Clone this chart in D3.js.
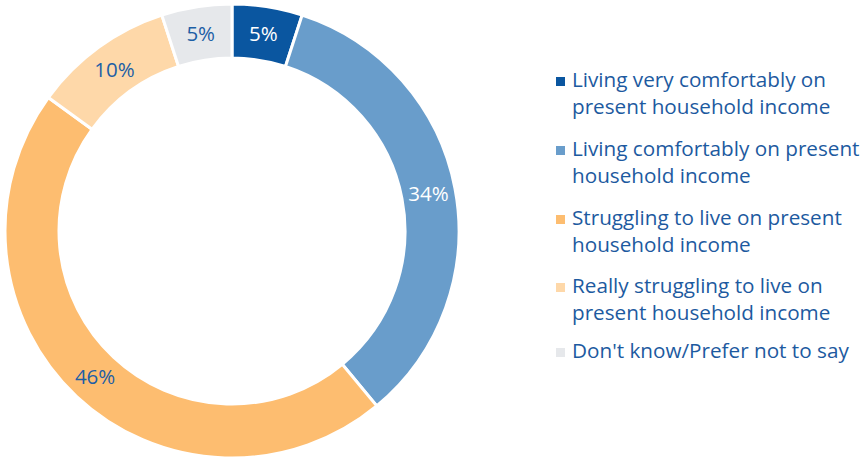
<!DOCTYPE html>
<html>
<head>
<meta charset="utf-8">
<script src="https://cdn.jsdelivr.net/npm/d3@7"></script>
<style>
  html, body { margin: 0; padding: 0; background: #fff; }
  svg { display: block; font-family: "Open Sans", "Noto Sans", sans-serif; }
</style>
</head>
<body>
<svg id="chart" width="865" height="459"></svg>
<script>
// Household income sentiment, share of respondents (%)
const categories = [
  "Living very comfortably on present household income",
  "Living comfortably on present household income",
  "Struggling to live on present household income",
  "Really struggling to live on present household income",
  "Don't know/Prefer not to say"
];
const values = [5, 34, 46, 10, 5];
const colors = ["#0a56a0", "#699dcb", "#fdbd70", "#fed8a9", "#e6e8eb"];
const labelColors = ["#ffffff", "#ffffff", "#1d5fa5", "#1d5fa5", "#1d5fa5"];
// Legend entries broken into the lines they wrap to
const legendLines = [
  ["Living very comfortably on", "present household income"],
  ["Living comfortably on present", "household income"],
  ["Struggling to live on present", "household income"],
  ["Really struggling to live on", "present household income"],
  ["Don't know/Prefer not to say"]
];

const svg = d3.select("#chart");
const cx = 232, cy = 231, outerR = 227, innerR = 173;

const pie = d3.pie().sort(null).value(d => d)(values);
const arc = d3.arc().innerRadius(innerR).outerRadius(outerR);
const labelArc = d3.arc().innerRadius((innerR + outerR) / 2).outerRadius((innerR + outerR) / 2);

const g = svg.append("g").attr("transform", `translate(${cx},${cy})`);

g.selectAll("path.slice")
  .data(pie)
  .join("path")
  .attr("class", "slice")
  .attr("d", arc)
  .attr("fill", (d, i) => colors[i])
  .attr("stroke", "#ffffff")
  .attr("stroke-width", 3);

g.selectAll("text.pct")
  .data(pie)
  .join("text")
  .attr("class", "pct")
  .attr("transform", d => `translate(${labelArc.centroid(d)})`)
  .attr("text-anchor", "middle")
  .attr("dy", "0.36em")
  .attr("font-size", 20.5)
  .attr("fill", (d, i) => labelColors[i])
  .text(d => d.data + "%");

// Legend: baseline of the first line of each entry
const legend = svg.append("g").attr("transform", "translate(556,0)");
const lineH = 27;
const rowBaselines = [87, 156, 225, 293, 358];
legendLines.forEach((lines, i) => {
  const baseline = rowBaselines[i];
  const row = legend.append("g");
  row.append("rect")
    .attr("x", 0)
    .attr("y", baseline - 10)
    .attr("width", 9)
    .attr("height", 9)
    .attr("fill", colors[i]);
  const t = row.append("text")
    .attr("x", 16)
    .attr("y", baseline)
    .attr("font-size", 20.7)
    .attr("fill", "#1d5aa0");
  lines.forEach((ln, j) => {
    t.append("tspan").attr("x", 16).attr("y", baseline + j * lineH).text(ln);
  });
});
</script>
</body>
</html>
